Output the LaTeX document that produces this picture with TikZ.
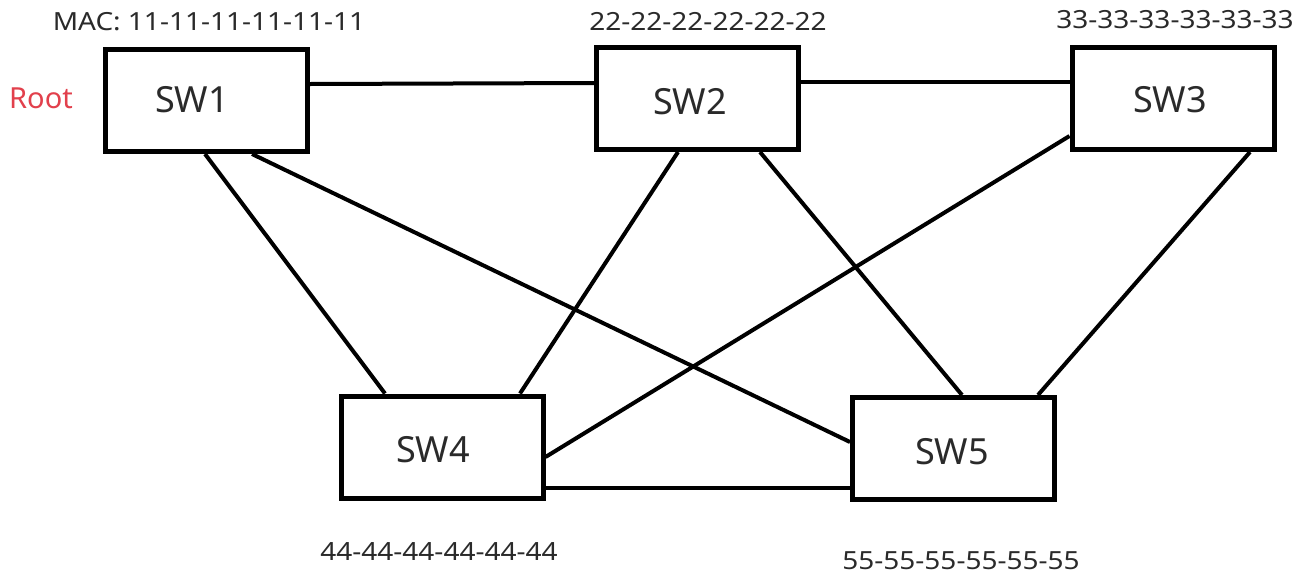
\documentclass[tikz,border=0pt]{standalone}
\usepackage{fontspec}
\setmainfont{Noto Sans}
\newfontfamily\macfont[FakeStretch=1.12]{Noto Sans}
\definecolor{txt}{HTML}{2A2A2A}
\definecolor{rootred}{HTML}{E2404C}
\begin{document}
\begin{tikzpicture}[x=1pt,y=-1pt,
  box/.style={draw=black,line width=5pt,minimum width=202pt,minimum height=102pt,inner sep=0pt},
  link/.style={draw=black,line width=4pt},
  swname/.style={text=txt,font=\fontsize{36}{40}\selectfont},
  mac/.style={text=txt,font=\macfont\fontsize{25}{28}\selectfont,inner sep=0pt}]
\useasboundingbox[fill=white] (0,0) rectangle (1309,587);
% switches
\node[box] (sw1) at (206.5,100.5) {};
\node[box] (sw2) at (697.5,98.5) {};
\node[box] (sw3) at (1173,98.5) {};
\node[box] (sw4) at (442,447) {};
\node[box] (sw5) at (953.5,448.5) {};
\node[swname] (t1) at (192,100) {SW1};
\node[swname] (t2) at (690,102) {SW2};
\node[swname] (t3) at (1170,100) {SW3};
\node[swname] (t4) at (433,450) {SW4};
\node[swname] (t5) at (952,452) {SW5};
% labels
\node[mac] (m1) at (209,22) {MAC: 11-11-11-11-11-11};
\node[mac] (m2) at (708,21) {22-22-22-22-22-22};
\node[mac] (m3) at (1175,20) {33-33-33-33-33-33};
\node[mac] (m4) at (439,552) {44-44-44-44-44-44};
\node[mac] (m5) at (961,561) {55-55-55-55-55-55};
\node[text=rootred,font=\fontsize{29}{32}\selectfont,inner sep=0pt] (root) at (41,98) {Root};
% links
\draw[link] ([yshift=16.5pt]sw1.east) -- ([yshift=15.5pt]sw2.west);
\draw[link] ([yshift=16.5pt]sw2.east) -- ([yshift=16.5pt]sw3.west);
\draw[link] ([xshift=-1.5pt]sw1.south) -- ([xshift=-57pt]sw4.north);
\draw[link] ([xshift=45.5pt]sw1.south) -- ([yshift=6.5pt]sw5.west);
\draw[link] ([xshift=-19.5pt]sw2.south) -- ([xshift=78pt]sw4.north);
\draw[link] ([xshift=62.5pt]sw2.south) -- ([xshift=8.5pt]sw5.north);
\draw[link] ([yshift=-37.5pt]sw3.west) -- ([yshift=-10pt]sw4.east);
\draw[link] ([xshift=77pt]sw3.south) -- ([xshift=84.5pt]sw5.north);
\draw[link] ([yshift=-41pt]sw4.east) -- ([yshift=-39.5pt]sw5.west);
\end{tikzpicture}
\end{document}
